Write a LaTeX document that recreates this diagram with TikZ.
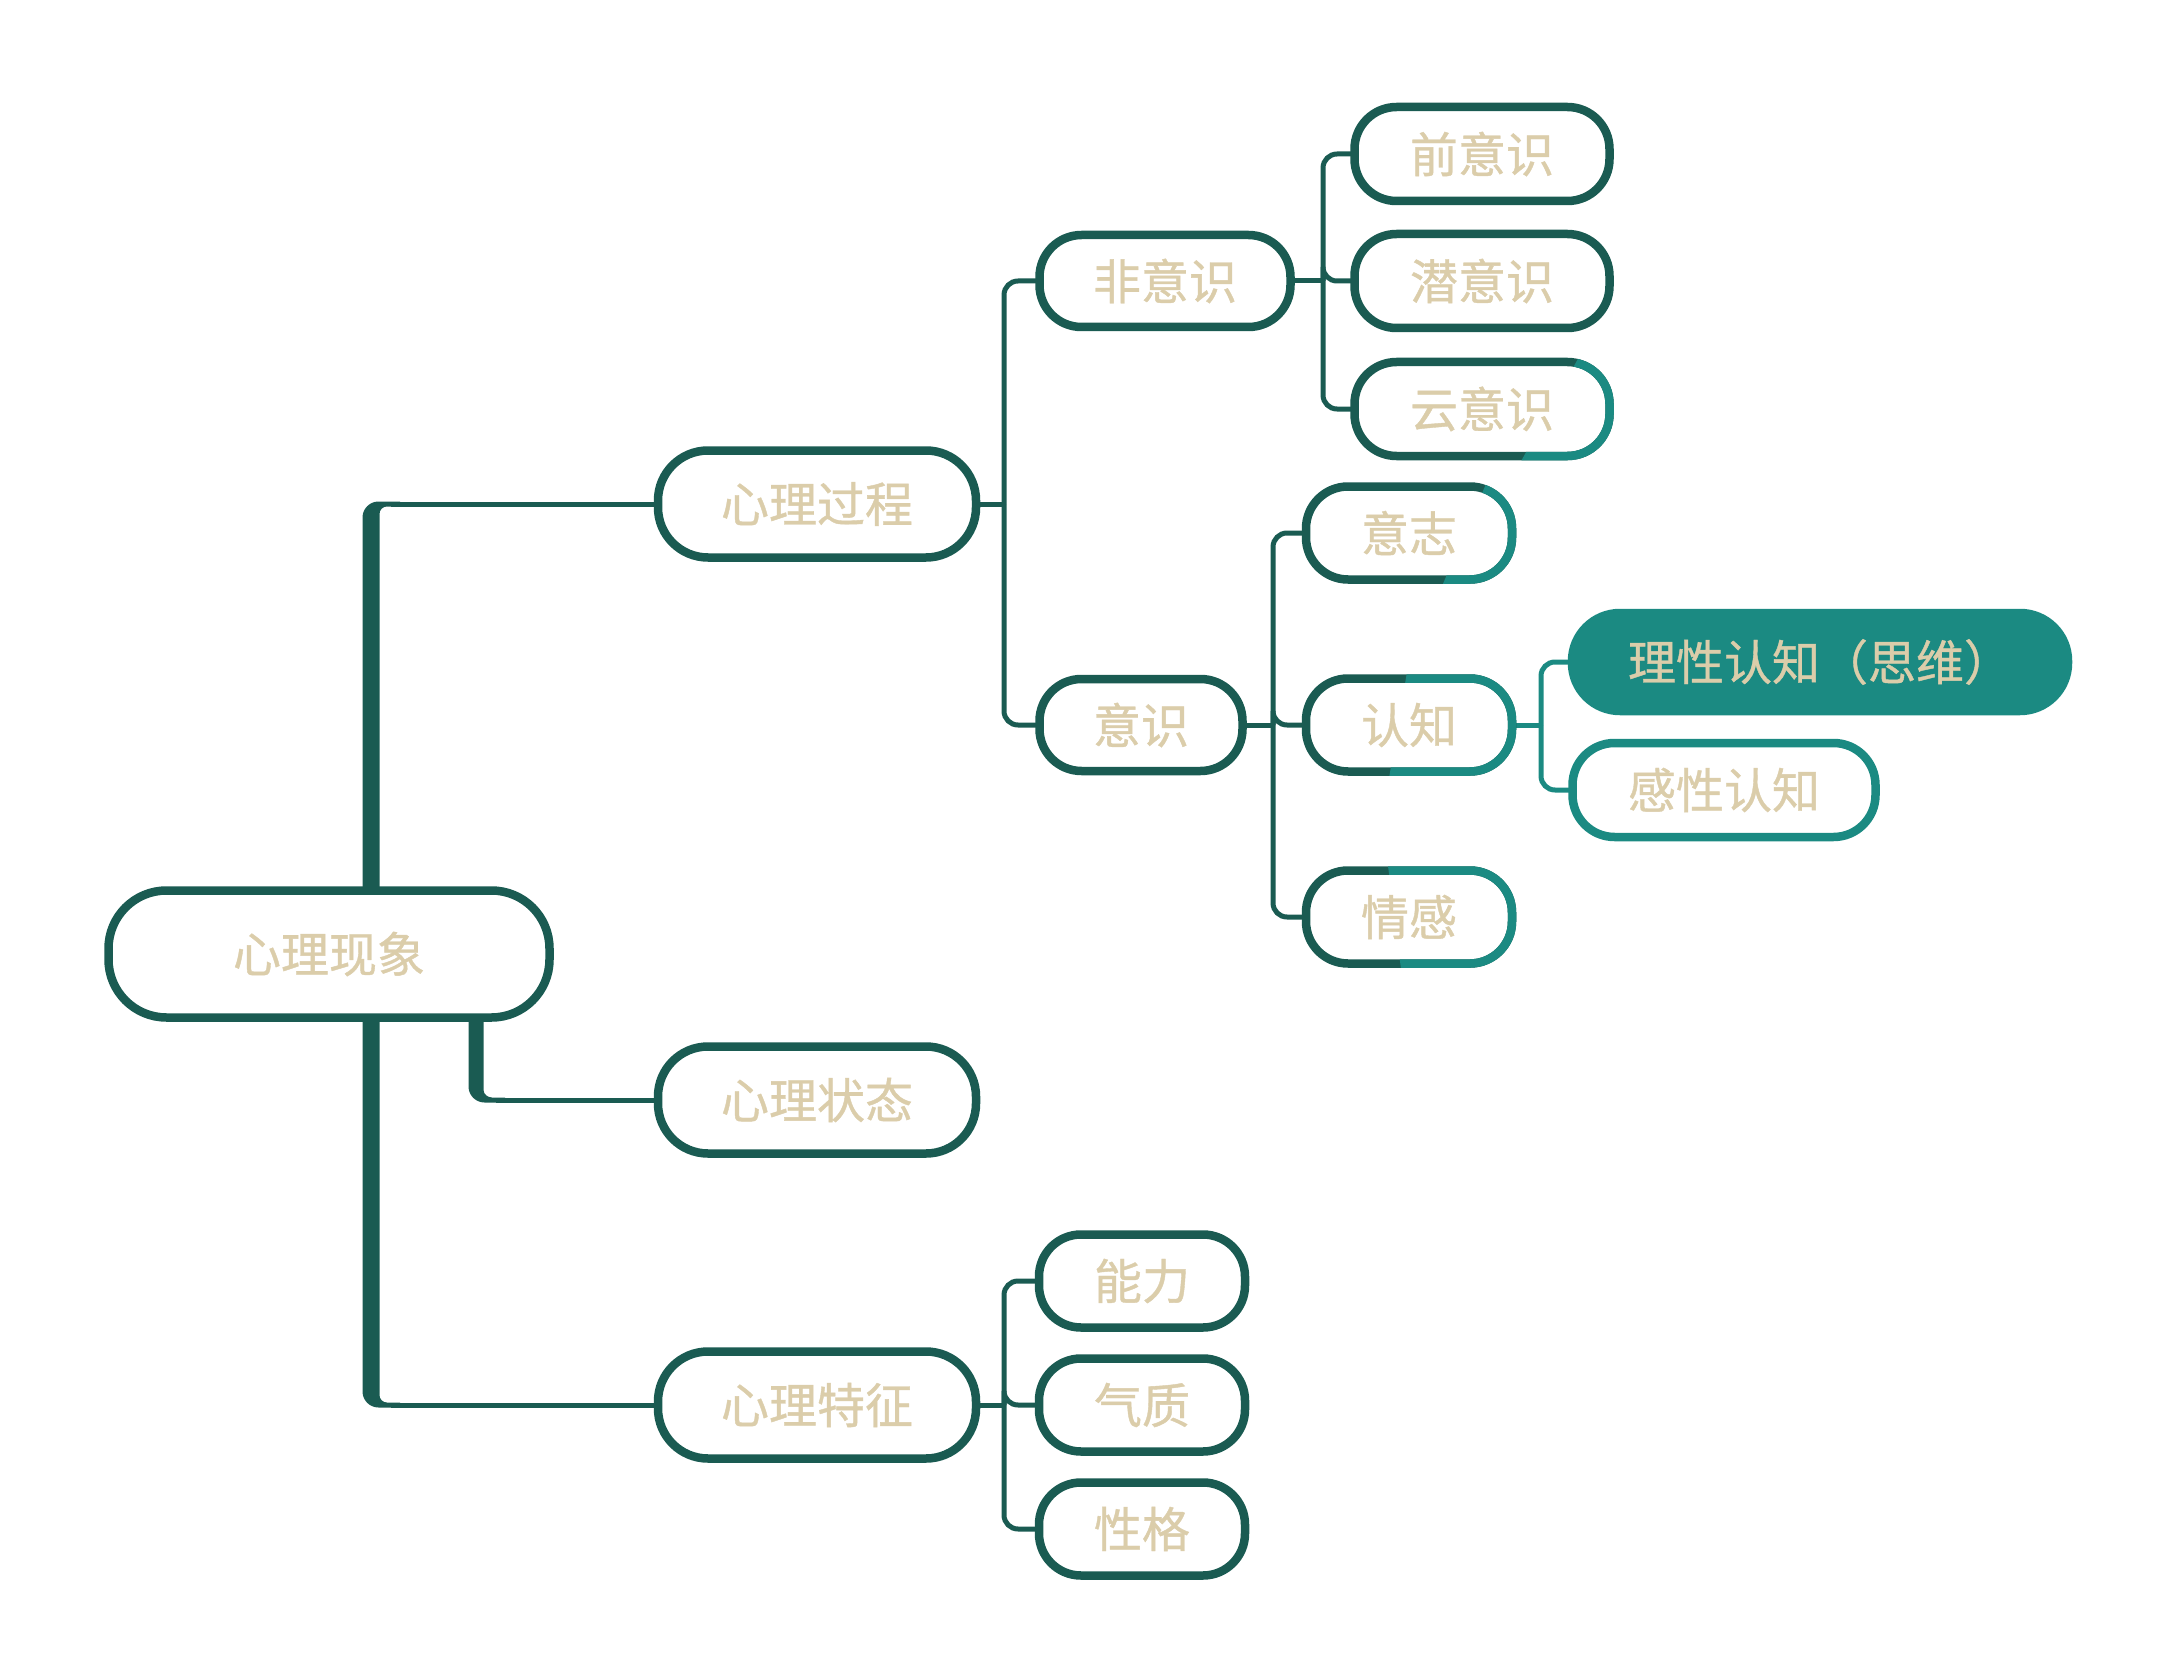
\documentclass[tikz,border=0pt]{standalone}
\usepackage{fontspec}
\newfontfamily\cjk[FakeBold=0.8]{Noto Sans CJK SC}
\usetikzlibrary{backgrounds}
\definecolor{dkg}{RGB}{26,91,82}
\definecolor{tl}{RGB}{27,138,130}
\definecolor{tanc}{RGB}{219,205,170}
\begin{document}
\begin{tikzpicture}[x=1pt,y=-1pt,
  box/.style={draw=dkg, line width=8.5pt, fill=white, rounded corners=42pt, outer sep=0pt, inner sep=0pt,
    text=tanc, font=\cjk\fontsize{48}{52}\selectfont},
  big/.style={box, minimum width=318pt, minimum height=107pt, rounded corners=50pt},
  sm/.style={box, minimum width=206pt, minimum height=93pt},
  conn/.style={draw=dkg, line width=5pt, rounded corners=14pt},
  tconn/.style={draw=tl, line width=5pt, rounded corners=14pt},
  tborder/.style={draw=tl, line width=8.5pt, rounded corners=42pt}]
\useasboundingbox (0,0) rectangle (2172,1680);

% nodes
\node[box, minimum width=441pt, minimum height=127pt, rounded corners=58pt] (root) at (329,954) {心理现象};
\node[big] (gc) at (817,504) {心理过程};
\node[big] (zt) at (817,1100) {心理状态};
\node[big] (tz) at (817,1405) {心理特征};

\node[box, minimum width=251pt, minimum height=92pt] (fys) at (1165,281) {非意识};
\node[box, minimum width=255pt, minimum height=94pt] (qys) at (1482,154) {前意识};
\node[box, minimum width=255pt, minimum height=94pt] (qianys) at (1482,281) {潜意识};
\node[box, minimum width=255pt, minimum height=94pt] (yys) at (1482,409) {云意识};

\node[box, minimum width=203pt, minimum height=92pt] (ys) at (1141,725) {意识};
\node[sm] (yz) at (1409,533) {意志};
\node[sm] (rz) at (1409,725) {认知};
\node[sm] (qg) at (1409,917) {情感};

\node[box, draw=tl, fill=tl, minimum width=496pt, minimum height=98pt, rounded corners=48pt] (lx) at (1820,662) {理性认知（思维）};
\node[box, draw=tl, minimum width=303pt, minimum height=94pt] (gx) at (1724,790) {感性认知};

\node[sm] (nl) at (1142,1281) {能力};
\node[sm] (qz) at (1142,1405) {气质};
\node[sm] (xg) at (1142,1529) {性格};

% gradient-like teal parts of borders
\begin{scope}
  \clip (1594,330) -- (1650,330) -- (1650,490) -- (1505,490) -- cycle;
  \draw[tborder] (yys.south west) rectangle (yys.north east);
\end{scope}
\begin{scope}
  \clip (1492,470) -- (1540,470) -- (1540,600) -- (1436,600) -- cycle;
  \draw[tborder] (yz.south west) rectangle (yz.north east);
\end{scope}
\begin{scope}
  \clip (1409,660) -- (1540,660) -- (1540,790) -- (1387,790) -- cycle;
  \draw[tborder] (rz.south west) rectangle (rz.north east);
\end{scope}
\begin{scope}
  \clip (1386,850) -- (1540,850) -- (1540,985) -- (1403,985) -- cycle;
  \draw[tborder] (qg.south west) rectangle (qg.north east);
\end{scope}

% junction coordinates
\coordinate (jtop) at (371,504);
\coordinate (jbot) at (371,1405);
\coordinate (jst) at (476,1100);
\coordinate (j1) at (1004,504);
\coordinate (j2) at (1323,281);
\coordinate (j3) at (1273,725);
\coordinate (j4) at (1541,725);
\coordinate (j5) at (1004,1405);

\begin{scope}[on background layer]
  % main trunk, upper part (thick, bending into the thin line)
  \fill[dkg] (362.5,910) -- (362.5,517.5) .. controls (362.5,508.7) and (369.7,501.5) .. (378.5,501.5)
    -- (400,501.5) -- (400,506.5) -- (387,506.5) .. controls (382.8,506.5) and (379.5,509.8) .. (379.5,514)
    -- (379.5,910) -- cycle;
  \draw[conn] ([xshift=20pt]jtop) -- (gc.west);
  % main trunk, lower part
  \fill[dkg] (362.5,1000) -- (362.5,1391.5) .. controls (362.5,1400.3) and (369.7,1407.5) .. (378.5,1407.5)
    -- (400,1407.5) -- (400,1402.5) -- (387,1402.5) .. controls (382.8,1402.5) and (379.5,1399.2) .. (379.5,1395)
    -- (379.5,1000) -- cycle;
  \draw[conn] ([xshift=20pt]jbot) -- (tz.west);
  % branch to 心理状态
  \fill[dkg] (468.5,1000) -- (468.5,1086.5) .. controls (468.5,1095.3) and (475.7,1102.5) .. (484.5,1102.5)
    -- (505,1102.5) -- (505,1097.5) -- (492,1097.5) .. controls (487.8,1097.5) and (483.5,1094.2) .. (483.5,1090)
    -- (483.5,1000) -- cycle;
  \draw[conn] ([xshift=20pt]jst) -- (zt.west);
  % 心理过程
  \draw[conn] (gc.east) -- (j1);
  \draw[conn] (j1) |- (fys.west);
  \draw[conn] (j1) |- (ys.west);
  % 非意识
  \draw[conn] (fys.east) -- (j2);
  \draw[conn] (j2) |- (qys.west);
  \draw[conn] (j2) |- (qianys.west);
  \draw[conn] (j2) |- (yys.west);
  % 意识
  \draw[conn] (ys.east) -- (j3);
  \draw[conn] (j3) |- (yz.west);
  \draw[conn] (j3) |- (rz.west);
  \draw[conn] (j3) |- (qg.west);
  % 认知
  \draw[tconn] (rz.east) -- (j4);
  \draw[tconn] (j4) |- (lx.west);
  \draw[tconn] (j4) |- (gx.west);
  % 心理特征
  \draw[conn] (tz.east) -- (j5);
  \draw[conn] (j5) |- (nl.west);
  \draw[conn] (j5) |- (qz.west);
  \draw[conn] (j5) |- (xg.west);
\end{scope}
\end{tikzpicture}
\end{document}
